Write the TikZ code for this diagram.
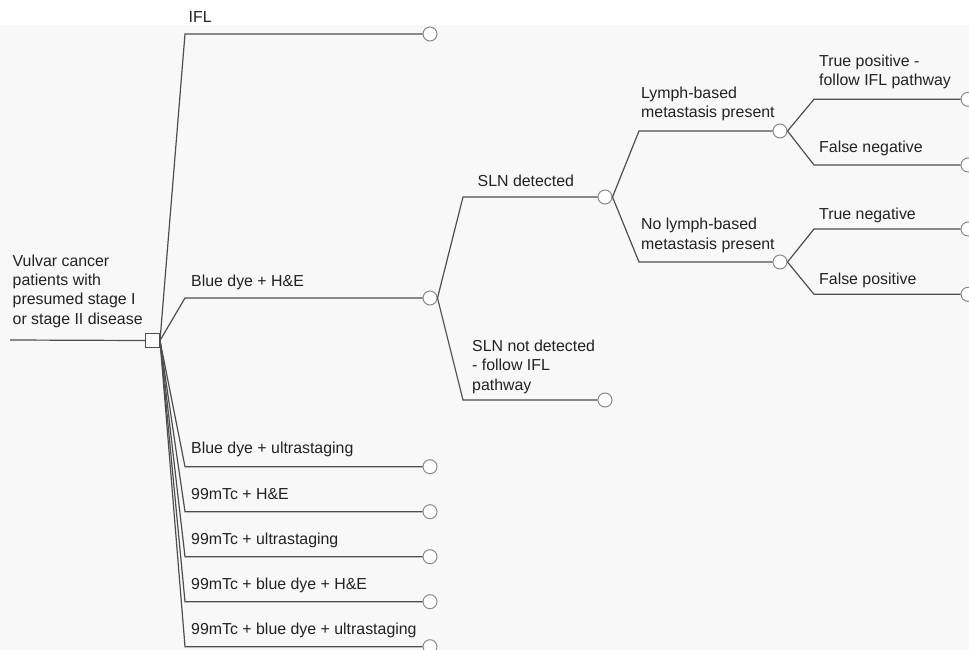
\documentclass[tikz,border=0pt]{standalone}
\usepackage{fontspec}
\setmainfont{Liberation Sans}
\definecolor{ln}{HTML}{4E4E4E}
\definecolor{cs}{HTML}{8A8A8A}
\definecolor{bgc}{HTML}{F8F8F8}
\definecolor{tx}{HTML}{222222}
\begin{document}
\begin{tikzpicture}[x=1pt,y=-1pt,
  chance/.style={circle,draw=cs,fill=white,line width=1pt,minimum size=14pt,inner sep=0pt},
  decision/.style={rectangle,draw=ln,fill=white,line width=1pt,minimum size=14pt,inner sep=0pt},
  lbl/.style={anchor=base west,inner sep=0pt,align=left,text=tx,font=\fontsize{15.9}{19.2}\selectfont},
  br/.style={draw=ln,line width=1.2pt}]
\useasboundingbox (0,0) rectangle (969,650);
\fill[white] (0,0) rectangle (969,25);
\fill[bgc] (0,25) rectangle (969,650);

% decision node and input
\coordinate (start) at (10,340);
\node[decision] (root) at (152.5,340.5) {};
\draw[br] (start) -- (root.west);

% chance nodes
\node[chance] (cIFL) at (430,34) {};
\node[chance] (cBH) at (430,298) {};
\node[chance] (cBU) at (430,466.7) {};
\node[chance] (cTH) at (430,511.7) {};
\node[chance] (cTU) at (430,556.7) {};
\node[chance] (cTBH) at (430,601.7) {};
\node[chance] (cTBU) at (430,646.7) {};
\node[chance] (cSD) at (605,197) {};
\node[chance] (cSN) at (605,400) {};
\node[chance] (cLP) at (780,131) {};
\node[chance] (cNL) at (780,262) {};
\node[chance] (cTP) at (968,99.3) {};
\node[chance] (cFN) at (968,165) {};
\node[chance] (cTN) at (968,229) {};
\node[chance] (cFP) at (968,294.3) {};

% kinks
\coordinate (kIFL) at (185,34);
\coordinate (kBH) at (185,298);
\coordinate (kBU) at (185,466.7);
\coordinate (kTH) at (185,511.7);
\coordinate (kTU) at (185,556.7);
\coordinate (kTBH) at (185,601.7);
\coordinate (kTBU) at (185,646.7);
\coordinate (kSD) at (463,197);
\coordinate (kSN) at (463,400);
\coordinate (kLP) at (639,131);
\coordinate (kNL) at (639,262);
\coordinate (kTP) at (814,99.3);
\coordinate (kFN) at (814,165);
\coordinate (kTN) at (814,229);
\coordinate (kFP) at (814,294.3);

% branches
\draw[br] (root.east) -- (kIFL) -- (cIFL.west);
\draw[br] (root.east) -- (kBH) -- (cBH.west);
\draw[br] (root.east) -- (kBU) -- (cBU.west);
\draw[br] (root.east) -- (kTH) -- (cTH.west);
\draw[br] (root.east) -- (kTU) -- (cTU.west);
\draw[br] (root.east) -- (kTBH) -- (cTBH.west);
\draw[br] (root.east) -- (kTBU) -- (cTBU.west);
\draw[br] (cBH.east) -- (kSD) -- (cSD.west);
\draw[br] (cBH.east) -- (kSN) -- (cSN.west);
\draw[br] (cSD.east) -- (kLP) -- (cLP.west);
\draw[br] (cSD.east) -- (kNL) -- (cNL.west);
\draw[br] (cLP.east) -- (kTP) -- (cTP.west);
\draw[br] (cLP.east) -- (kFN) -- (cFN.west);
\draw[br] (cNL.east) -- (kTN) -- (cTN.west);
\draw[br] (cNL.east) -- (kFP) -- (cFP.west);

% labels (base = baseline of last line)
\node[lbl] (tRoot) at (12.5,324) {Vulvar cancer\\patients with\\presumed stage I\\or stage II disease};
\node[lbl] (tIFL) at (188.5,23) {IFL};
\node[lbl] (tBH) at (191,286) {Blue dye + H\&E};
\node[lbl] (tBU) at (191,453) {Blue dye + ultrastaging};
\node[lbl] (tTH) at (191,499) {99mTc + H\&E};
\node[lbl] (tTU) at (191,544) {99mTc + ultrastaging};
\node[lbl] (tTBH) at (191,589) {99mTc + blue dye + H\&E};
\node[lbl] (tTBU) at (191,634) {99mTc + blue dye + ultrastaging};
\node[lbl] (tSD) at (477.5,186) {SLN detected};
\node[lbl] (tSN) at (472,390) {SLN not detected\\- follow IFL\\pathway};
\node[lbl] (tLP) at (641,118) {Lymph-based\\metastasis present};
\node[lbl] (tNL) at (641,249) {No lymph-based\\metastasis present};
\node[lbl] (tTP) at (819,86) {True positive -\\follow IFL pathway};
\node[lbl] (tFN) at (819,152.7) {False negative};
\node[lbl] (tTN) at (819,219) {True negative};
\node[lbl] (tFP) at (819,284) {False positive};
\end{tikzpicture}
\end{document}
